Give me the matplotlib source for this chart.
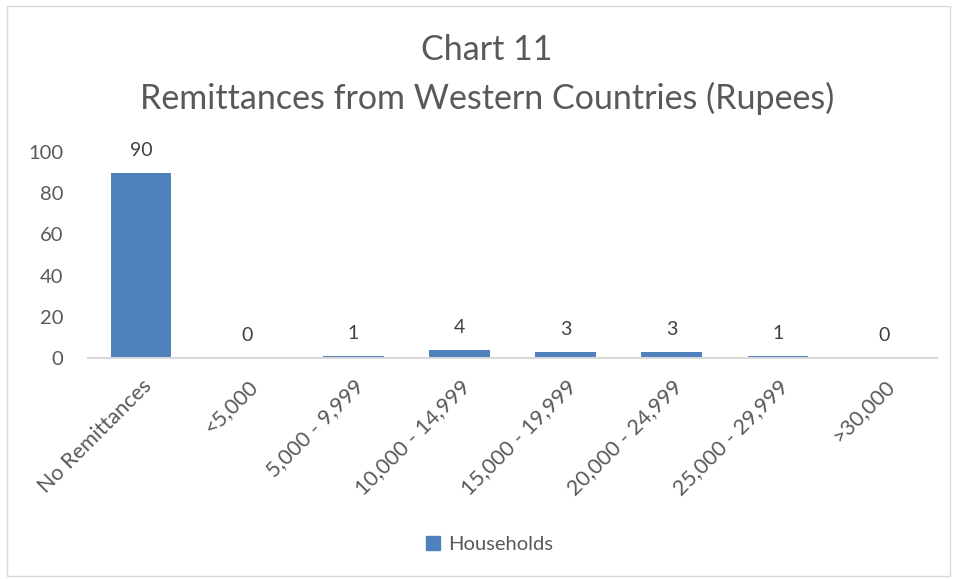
import matplotlib
matplotlib.use("Agg")
import matplotlib.pyplot as plt
from matplotlib.patches import Rectangle, Patch

categories = ["No Remittances", "<5,000", "5,000 - 9,999", "10,000 - 14,999",
              "15,000 - 19,999", "20,000 - 24,999", "25,000 - 29,999", ">30,000"]
households = [90, 0, 1, 4, 3, 3, 1, 0]
yticks = [0, 20, 40, 60, 80, 100]

BAR = "#4F81BD"
TXT = "#595959"
plt.rcParams['font.family'] = ['Lato', 'DejaVu Sans']

fig = plt.figure(figsize=(9.59, 5.79), dpi=100)
fig.patches.append(Rectangle((0.007, 0.006), 0.984, 0.984, transform=fig.transFigure,
                             fill=False, edgecolor="#D9D9D9", linewidth=1))
ax = fig.add_axes([0.0918, 0.3817, 0.8852, 0.3558])
x = range(len(categories))
ax.bar(x, households, width=0.57, color=BAR)
ax.set_xlim(-0.5, len(categories) - 0.5)
ax.set_ylim(0, 100)
ax.set_yticks(yticks)
ax.set_yticklabels([str(v) for v in yticks], fontsize=14.5, color=TXT)
ax.set_xticks(list(x))
ax.set_xticklabels(categories, rotation=45, ha='right', rotation_mode='anchor',
                   fontsize=15.5, color=TXT)
ax.tick_params(axis='both', length=0)
ax.tick_params(axis='y', pad=18)
ax.tick_params(axis='x', pad=13)
for s in ['top', 'right', 'left']:
    ax.spines[s].set_visible(False)
ax.spines['bottom'].set_color("#D9D9D9")
ax.spines['bottom'].set_linewidth(1.5)
for xi, v in zip(x, households):
    ax.annotate(str(v), (xi, v), xytext=(0, 10), textcoords='offset points',
                ha='center', va='bottom', fontsize=14, color="#404040")

fig.text(0.508, 0.913, "Chart 11", ha='center', va='center', fontsize=24.5, color=TXT)
fig.text(0.508, 0.830, "Remittances from Western Countries (Rupees)", ha='center',
         va='center', fontsize=24.5, color=TXT)

fig.legend(handles=[Patch(color=BAR, label="Households")], loc='center',
           bbox_to_anchor=(0.51, 0.059), frameon=False, fontsize=14.5,
           handlelength=0.7, handleheight=0.7, handletextpad=0.4, labelcolor=TXT)

fig.savefig("out.png", dpi=100)
